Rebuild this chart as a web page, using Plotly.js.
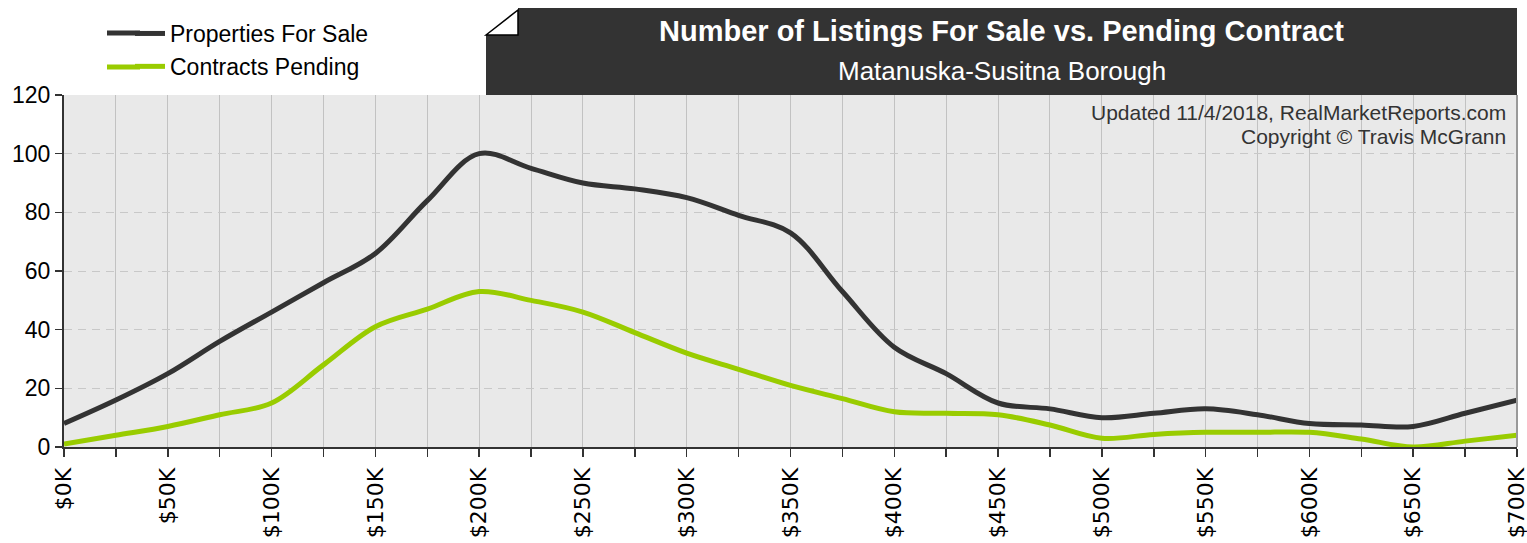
<!DOCTYPE html>
<html>
<head>
<meta charset="utf-8">
<script src="https://cdn.plot.ly/plotly-3.0.1.min.js"></script>
<style>
html,body{margin:0;padding:0;background:#fff;}
#chart{width:1527px;height:543px;}
</style>
</head>
<body>
<div id="chart"></div>
<script>
// Price points ($K)
var priceK = [0,25,50,75,100,125,150,175,200,225,250,275,300,325,350,375,400,425,450,475,500,525,550,575,600,625,650,675,700];
var tickLabels = ["$0K","","$50K","","$100K","","$150K","","$200K","","$250K","","$300K","","$350K","","$400K","","$450K","","$500K","","$550K","","$600K","","$650K","","$700K"];
// Series values
var forSale = [8,16,25,36,46,56,66,84,100,95,90,88,85,79,73,53,34,25,15,13,10,11.5,13,11,8,7.5,7,11.5,16];
var pending = [1,4,7,11,15,28,41,47,53,50,46,39,32,26.5,21,16.5,12,11.5,11,7.5,3,4.3,5,5,5,2.7,0,2,4];

var seriesNames = ["Properties For Sale","Contracts Pending"];
var seriesColors = ['#333333','#99cc00'];

// pixel -> paper helpers (plot area: x 64..1517, y 95..447)
function px(x){return (x-64)/1453;}
function py(y){return (447-y)/352;}

var traces = [
  {x: priceK, y: forSale, name: seriesNames[0], type:'scatter', mode:'lines',
   line:{color:seriesColors[0], width:5, shape:'spline', smoothing:1}, hoverinfo:'skip'},
  {x: priceK, y: pending, name: seriesNames[1], type:'scatter', mode:'lines',
   line:{color:seriesColors[1], width:5, shape:'spline', smoothing:1}, hoverinfo:'skip'}
];

var darkPath = 'M '+px(486)+','+py(95)+' L '+px(486)+','+py(35)+' L '+px(518)+','+py(35)+' L '+px(518)+','+py(8)+' L '+px(1517)+','+py(8)+' L '+px(1517)+','+py(95)+' Z';
var foldPath = 'M '+px(486)+','+py(35)+' L '+px(518)+','+py(10)+' L '+px(518)+','+py(35)+' Z';

var layout = {
  width:1527, height:543,
  margin:{l:64, r:10, t:95, b:96, pad:0},
  paper_bgcolor:'#ffffff',
  plot_bgcolor:'#e9e9e9',
  font:{family:'Liberation Sans, Arial, sans-serif', color:'#000'},
  showlegend:true,
  legend:{x:px(130), y:py(12), xanchor:'left', yanchor:'top', bgcolor:'rgba(0,0,0,0)',
          font:{family:'Liberation Sans, Arial, sans-serif', size:23, color:'#000'},
          tracegroupgap:0},
  xaxis:{
    range:[0,700], tickmode:'array', tickvals:priceK, ticktext:tickLabels,
    tickangle:-90, ticks:'outside', ticklen:8, tickwidth:1.5, tickcolor:'#333',
    ticklabelstandoff:2, ticklabeloverflow:'allow',
    tickfont:{family:'DejaVu Sans, sans-serif', size:22, color:'#000'},
    showgrid:true, gridcolor:'#c2c2c2', gridwidth:1,
    showline:true, linecolor:'#333', linewidth:2, zeroline:false, fixedrange:true
  },
  yaxis:{
    range:[0,120], tickmode:'array', tickvals:[0,20,40,60,80,100,120],
    ticks:'outside', ticklen:7, tickwidth:1.5, tickcolor:'#333',
    tickfont:{family:'Liberation Sans, Arial, sans-serif', size:23, color:'#000'},
    showgrid:true, gridcolor:'#c8c8c8', gridwidth:1, griddash:'8px,6px',
    showline:true, linecolor:'#333', linewidth:2, zeroline:false, fixedrange:true
  },
  shapes:[
    {type:'line', xref:'paper', yref:'paper', x0:1, x1:1, y0:0, y1:1, line:{color:'#999', width:2}, layer:'above'},
    {type:'path', xref:'paper', yref:'paper', path:darkPath, fillcolor:'#333333', line:{width:0}, layer:'above'},
    {type:'path', xref:'paper', yref:'paper', path:foldPath, fillcolor:'#ffffff', line:{color:'#000', width:1.5}, layer:'above'},
    // longer legend line samples, as in the original
    {type:'line', xref:'paper', yref:'paper', x0:px(107), x1:px(140), y0:py(33), y1:py(33), line:{color:seriesColors[0], width:5}, layer:'above'},
    {type:'line', xref:'paper', yref:'paper', x0:px(107), x1:px(140), y0:py(67), y1:py(67), line:{color:seriesColors[1], width:5}, layer:'above'}
  ],
  annotations:[
    {xref:'paper', yref:'paper', x:px(1002), y:py(31), xanchor:'center', yanchor:'middle', showarrow:false,
     text:'Number of Listings For Sale vs. Pending Contract',
     font:{family:'Liberation Sans, Arial, sans-serif', size:29, color:'#ffffff', weight:'bold'}},
    {xref:'paper', yref:'paper', x:px(1002), y:py(71), xanchor:'center', yanchor:'middle', showarrow:false,
     text:'Matanuska-Susitna Borough',
     font:{family:'Liberation Sans, Arial, sans-serif', size:26, color:'#ffffff'}},
    {xref:'paper', yref:'paper', x:px(1508), y:py(112), xanchor:'right', yanchor:'middle', showarrow:false,
     text:'Updated 11/4/2018, RealMarketReports.com',
     font:{family:'Liberation Sans, Arial, sans-serif', size:21, color:'#333'}},
    {xref:'paper', yref:'paper', x:px(1508), y:py(136), xanchor:'right', yanchor:'middle', showarrow:false,
     text:'Copyright © Travis McGrann',
     font:{family:'Liberation Sans, Arial, sans-serif', size:21, color:'#333'}}
  ]
};

Plotly.newPlot('chart', traces, layout, {staticPlot:true, displayModeBar:false});
</script>
</body>
</html>
